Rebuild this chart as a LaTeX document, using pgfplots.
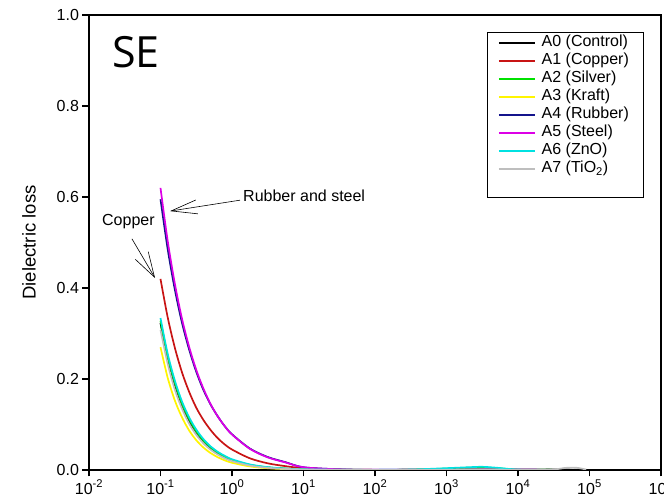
\documentclass[border=0pt]{standalone}
\usepackage{fontspec}
\setmainfont{Liberation Sans}
\newfontfamily\sefont{Open Sans}
\usepackage{pgfplots}
\pgfplotsset{compat=1.18}
\usetikzlibrary{arrows.meta}

\definecolor{cRed}{RGB}{200,20,20}
\definecolor{cGreen}{RGB}{0,225,0}
\definecolor{cYellow}{RGB}{255,245,0}
\definecolor{cBlue}{RGB}{20,20,140}
\definecolor{cMag}{RGB}{220,0,230}
\definecolor{cCyan}{RGB}{0,225,225}
\definecolor{cGrey}{RGB}{190,190,190}

\begin{document}
\begin{tikzpicture}
\begin{axis}[
  at={(89pt,33pt)}, anchor=south west,
  width=572pt, height=455pt, scale only axis,
  xmode=log, xmin=1e-2, xmax=1e6, ymin=0, ymax=1,
  xtick={1e-2,1e-1,1,10,100,1000,1e4,1e5,1e6},
  xticklabels={10\textsuperscript{-2},10\textsuperscript{-1},10\textsuperscript{0},10\textsuperscript{1},10\textsuperscript{2},10\textsuperscript{3},10\textsuperscript{4},10\textsuperscript{5},10\textsuperscript{6}},
  ytick={0,0.2,0.4,0.6,0.8,1.0},
  yticklabels={0.0,0.2,0.4,0.6,0.8,1.0},
  xminorticks=false, yminorticks=false,
  tick align=outside, xtick pos=bottom, ytick pos=left,
  major tick length=6.5pt,
  axis line style={line width=1.4pt},
  tick style={line width=1.4pt, black},
  ticklabel style={font=\fontsize{16}{19}\selectfont},
  every axis y label/.style={at={(axis description cs:-0.105,0.5)}, rotate=90, anchor=center, font=\fontsize{18.5}{22}\selectfont},
  ylabel={Dielectric loss},
  legend image code/.code={\draw[#1, line width=1.5pt] (0pt,0pt) -- (36pt,0pt);},
  legend cell align=left,
  legend style={at={(0.696,0.963)}, anchor=north west, draw=black, line width=1.2pt, fill=white,
    inner xsep=10.5pt, inner ysep=1.5pt, row sep=0pt,
    font=\fontsize{16}{19}\selectfont,
    nodes={inner sep=1pt, text height=12pt, text depth=4pt},
    /tikz/every odd column/.append style={column sep=5pt}},
  every axis plot/.append style={line width=1.7pt, smooth},
]

% A0 Control
\addplot[black] coordinates {
(0.1,0.323)(0.1259,0.245)(0.1585,0.187)(0.1995,0.142)(0.2512,0.108)(0.3162,0.082)
(0.3981,0.0624)(0.5012,0.0475)(0.631,0.0361)(0.7943,0.0274)(1,0.0209)(1.778,0.0105)
(3.162,0.0053)(5.623,0.0027)(10,0.0014)(31.6,0.0005)(100,0.0002)(316,0.0004)
(1000,0.0008)(3160,0.0010)(10000,0.0006)(20000,0.0008)(40000,0.0010)(80000,0.0006)};
\addlegendentry{A0 (Control)\hspace*{4pt}}

% A1 Copper
\addplot[cRed] coordinates {
(0.1,0.420)(0.1259,0.336)(0.1585,0.269)(0.1995,0.215)(0.2512,0.172)(0.3162,0.137)
(0.3981,0.110)(0.5012,0.088)(0.631,0.070)(0.7943,0.056)(1,0.045)(1.778,0.0257)
(3.162,0.0147)(5.623,0.0084)(10,0.0040)(31.6,0.0010)(100,0.0003)(316,0.0004)
(1000,0.0006)(3160,0.0008)(10000,0.0005)(30000,0.0004)};
\addlegendentry{A1 (Copper)}

% A2 Silver
\addplot[cGreen] coordinates {
(0.1,0.328)(0.1259,0.250)(0.1585,0.192)(0.1995,0.146)(0.2512,0.112)(0.3162,0.085)
(0.3981,0.065)(0.5012,0.050)(0.631,0.038)(0.7943,0.029)(1,0.022)(1.778,0.0113)
(3.162,0.0058)(5.623,0.0030)(10,0.0015)(31.6,0.0005)(100,0.0002)(316,0.0006)
(1000,0.0030)(2000,0.0050)(3160,0.0055)(5000,0.0040)(10000,0.0008)(30000,0.0005)};
\addlegendentry{A2 (Silver)}

% A3 Kraft
\addplot[cYellow] coordinates {
(0.1,0.270)(0.1259,0.203)(0.1585,0.153)(0.1995,0.116)(0.2512,0.087)(0.3162,0.0656)
(0.3981,0.0494)(0.5012,0.0373)(0.631,0.0281)(0.7943,0.0211)(1,0.0159)(1.778,0.0078)
(3.162,0.0039)(5.623,0.0019)(10,0.0010)(31.6,0.0003)(100,0.0001)(316,0.0003)
(1000,0.0005)(3160,0.0008)(10000,0.0005)(30000,0.0004)};
\addlegendentry{A3 (Kraft)}

% A4 Rubber
\addplot[cBlue] coordinates {
(0.1,0.595)(0.1259,0.486)(0.1585,0.397)(0.1995,0.324)(0.2512,0.265)(0.3162,0.216)
(0.3981,0.176)(0.5012,0.144)(0.631,0.118)(0.7943,0.096)(1,0.0785)(1.778,0.0472)
(3.162,0.0285)(5.623,0.0171)(10,0.0060)(31.6,0.0015)(100,0.0005)(316,0.0005)
(1000,0.0010)(3160,0.0012)(10000,0.0008)(30000,0.0005)};
\addlegendentry{A4 (Rubber)}

% A5 Steel
\addplot[cMag] coordinates {
(0.1,0.620)(0.1259,0.504)(0.1585,0.410)(0.1995,0.333)(0.2512,0.271)(0.3162,0.220)
(0.3981,0.179)(0.5012,0.145)(0.631,0.118)(0.7943,0.096)(1,0.078)(1.778,0.0465)
(3.162,0.0277)(5.623,0.0165)(10,0.0060)(31.6,0.0015)(100,0.0005)(316,0.0008)
(1000,0.0006)(3160,0.0009)(10000,0.0012)(20000,0.0008)};
\addlegendentry{A5 (Steel)}

% A6 ZnO
\addplot[cCyan] coordinates {
(0.1,0.334)(0.1259,0.256)(0.1585,0.197)(0.1995,0.151)(0.2512,0.116)(0.3162,0.089)
(0.3981,0.068)(0.5012,0.052)(0.631,0.040)(0.7943,0.031)(1,0.0236)(1.778,0.0122)
(3.162,0.0063)(5.623,0.0032)(10,0.0016)(31.6,0.0006)(100,0.0003)(316,0.0010)
(1000,0.0040)(2000,0.0060)(3160,0.0070)(5000,0.0050)(10000,0.0010)(30000,0.0005)};
\addlegendentry{A6 (ZnO)}

% A7 TiO2
\addplot[cGrey] coordinates {
(0.1,0.308)(0.1259,0.234)(0.1585,0.177)(0.1995,0.135)(0.2512,0.102)(0.3162,0.0773)
(0.3981,0.0588)(0.5012,0.0447)(0.631,0.0339)(0.7943,0.0256)(1,0.0194)(1.778,0.0097)
(3.162,0.0049)(5.623,0.0024)(10,0.0012)(31.6,0.0004)(50,0.0015)(100,0.0002)(316,0.0004)
(1000,0.0008)(3160,0.0010)(10000,0.0008)(30000,0.0010)(45000,0.0045)(65000,0.0050)(90000,0.0010)};
\addlegendentry{A7 (TiO\textsubscript{2})}

\addlegendimage{empty legend}
\addlegendentry{}

% annotations
\node[font=\sefont\fontsize{43}{43}\selectfont] at (axis cs:0.0454,0.919) {SE};
\node[font=\fontsize{16}{19}\selectfont] at (axis cs:0.0356,0.545) {Copper};
\draw[line width=0.6pt, -{Straight Barb[length=25pt,width=15pt]}] (axis cs:0.0399,0.508) -- (axis cs:0.0838,0.422);
\node[font=\fontsize{16}{19}\selectfont, anchor=west, inner sep=0pt] at (axis cs:1.426,0.602) {Rubber and steel};
\draw[line width=0.6pt, -{Straight Barb[length=26pt,width=14pt]}] (axis cs:1.294,0.593) -- (axis cs:0.136,0.569);
\end{axis}
\pgfresetboundingbox
\path[use as bounding box] (0pt,0pt) rectangle (664pt,503pt);
\end{tikzpicture}
\end{document}
